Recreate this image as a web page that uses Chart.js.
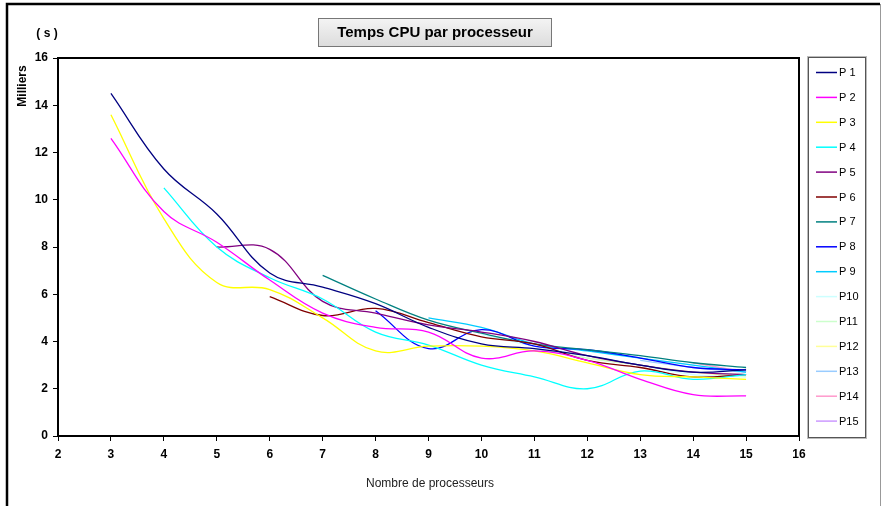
<!DOCTYPE html>
<html>
<head>
<meta charset="utf-8">
<script src="https://cdn.jsdelivr.net/npm/chart.js@4"></script>
<style>
html, body { margin: 0; padding: 0; background: #fff; }
#wrap { width: 883px; height: 506px; position: relative; }
</style>
</head>
<body>
<div id="wrap"><canvas id="cpuChart" width="883" height="506"></canvas></div>
<script>
// processor counts on the x axis
const xValues = [3, 4, 5, 6, 7, 8, 9, 10, 11, 12, 13, 14, 15]
const xTicks = [2, 3, 4, 5, 6, 7, 8, 9, 10, 11, 12, 13, 14, 15, 16]
const yTicks = [0, 2, 4, 6, 8, 10, 12, 14, 16]

const seriesNames = ['P 1','P 2','P 3','P 4','P 5','P 6','P 7','P 8','P 9','P10','P11','P12','P13','P14','P15']

// CPU time, thousands of seconds
const p1 = [14.5, 11.3, 9.4, 6.9, 6.3, 5.6, 4.6, 3.9, 3.7, 3.4, 3.0, 2.7, 2.8]
const p2 = [12.6, 9.5, 8.2, 6.6, 5.2, 4.6, 4.4, 3.3, 3.6, 3.2, 2.4, 1.75, 1.7]
const p3 = [13.6, 9.2, 6.5, 6.2, 5.0, 3.6, 3.8, 3.8, 3.6, 3.1, 2.6, 2.5, 2.4]
const p4 = [null, 10.5, 8.0, 6.7, 5.8, 4.4, 3.85, 3.0, 2.5, 2.0, 2.75, 2.4, 2.6]
const p5 = [null, null, 8.0, 7.9, 5.7, 5.2, 4.7, 4.4, 4.0, 3.4, 3.0, 2.7, 2.6]
const p6 = [null, null, null, 5.9, 5.1, 5.4, 4.8, 4.2, 3.9, 3.2, 2.9, 2.5, 2.6]
const p7 = [null, null, null, null, 6.8, 5.8, 4.9, 4.35, 3.9, 3.65, 3.4, 3.1, 2.9]
const p8 = [null, null, null, null, null, 5.3, 3.7, 4.5, 3.8, 3.65, 3.3, 2.9, 2.8]
const p9 = [null, null, null, null, null, null, 5.0, 4.6, 3.9, 3.6, 3.3, 3.0, 2.7]
const p10 = [null, null, null, null, null, null, null, 4.3, 3.8, 3.4, 3.0, 2.6, 2.5]
const p11 = [null, null, null, null, null, null, null, null, 3.7, 3.3, 3.0, 2.7, 2.6]
const p12 = [null, null, null, null, null, null, null, null, null, 3.3, 3.0, 2.7, 2.5]
const p13 = [null, null, null, null, null, null, null, null, null, null, 3.2, 2.9, 2.7]
const p14 = [null, null, null, null, null, null, null, null, null, null, null, 3.1, 2.7]
const p15 = [null, null, null, null, null, null, null, null, null, null, null, null, 2.8]

const allSeries = [p1, p2, p3, p4, p5, p6, p7, p8, p9, p10, p11, p12, p13, p14, p15]

// old Excel default series palette
const colors = ['#000080','#ff00ff','#ffff00','#00ffff','#800080','#800000','#008080','#0000ff',
  '#00ccff','#ccffff','#ccffcc','#ffff99','#99ccff','#ff99cc','#cc99ff']

const datasets = allSeries.map((vals, k) => ({
  label: seriesNames[k],
  data: xValues.map((x, i) => ({ x: x, y: vals[i] })).filter(p => p.y !== null),
  borderColor: colors[k],
  backgroundColor: colors[k],
  borderWidth: 1.3,
  pointRadius: 0,
  tension: 0.4,
  fill: false
}))

const font = 'Arial, "Liberation Sans", sans-serif'

// frame, title box, axis captions and legend drawn on the canvas
const decorations = {
  id: 'decorations',
  afterDraw(chart) {
    const c = chart.ctx
    const a = chart.chartArea
    c.save()

    // outer frame
    c.strokeStyle = '#000'
    c.lineWidth = 2.5
    c.beginPath()
    c.moveTo(7, 520); c.lineTo(7, 4); c.lineTo(880, 4)
    c.stroke()
    c.strokeStyle = '#999'
    c.lineWidth = 1
    c.beginPath()
    c.moveTo(880.5, 4); c.lineTo(880.5, 506)
    c.stroke()

    // plot border
    c.strokeStyle = '#000'
    c.lineWidth = 2
    c.strokeRect(a.left, a.top, a.right - a.left, a.bottom - a.top)

    // title box
    const g = c.createLinearGradient(0, 18, 0, 47)
    g.addColorStop(0, '#f4f4f4')
    g.addColorStop(1, '#dcdcdc')
    c.fillStyle = g
    c.fillRect(318, 18, 234, 29)
    c.strokeStyle = '#777'
    c.lineWidth = 1
    c.strokeRect(318.5, 18.5, 233, 28)
    c.fillStyle = '#000'
    c.font = 'bold 15px ' + font
    c.textAlign = 'center'
    c.textBaseline = 'middle'
    c.fillText('Temps CPU par processeur', 435, 33)

    // unit captions
    c.font = 'bold 12px ' + font
    c.fillText('( s )', 47, 34)
    c.save()
    c.translate(23, 86)
    c.rotate(-Math.PI / 2)
    c.fillText('Milliers', 0, 0)
    c.restore()

    // x axis caption
    c.font = '12px ' + font
    c.fillStyle = '#222'
    c.fillText('Nombre de processeurs', 430, 484)

    // legend
    c.strokeStyle = '#555'
    c.lineWidth = 1
    c.strokeRect(808.5, 57.5, 57, 380)
    c.strokeStyle = '#bbb'
    c.strokeRect(807.5, 56.5, 59, 382)
    c.font = '11px ' + font
    c.textAlign = 'left'
    c.fillStyle = '#000'
    chart.data.datasets.forEach((ds, k) => {
      const y = 72 + k * 24.9
      c.strokeStyle = ds.borderColor
      c.lineWidth = 1.5
      c.beginPath()
      c.moveTo(816, y + 0.5); c.lineTo(837, y + 0.5)
      c.stroke()
      c.fillText(ds.label, 839, y + 1)
    })

    c.restore()
  }
}

new Chart(document.getElementById('cpuChart'), {
  type: 'line',
  data: { datasets: datasets },
  options: {
    responsive: false,
    animation: false,
    events: [],
    layout: { padding: { left: 8, top: 58, right: 84, bottom: 0 } },
    plugins: {
      legend: { display: false },
      title: { display: false },
      tooltip: { enabled: false }
    },
    scales: {
      x: {
        type: 'linear',
        min: 2,
        max: 16,
        afterFit: s => { s.height = 70 },
        afterBuildTicks: s => { s.ticks = xTicks.map(v => ({ value: v })) },
        ticks: {
          color: '#000',
          padding: 6,
          maxRotation: 0,
          font: { family: font, size: 12, weight: 'bold' }
        },
        grid: { display: true, drawOnChartArea: false, drawTicks: true, tickLength: 5, color: '#000' },
        border: { display: true, color: '#000', width: 2 }
      },
      y: {
        type: 'linear',
        min: 0,
        max: 16,
        afterFit: s => { s.width = 50 },
        afterBuildTicks: s => { s.ticks = yTicks.map(v => ({ value: v })) },
        ticks: {
          color: '#000',
          padding: 5,
          font: { family: font, size: 12, weight: 'bold' }
        },
        grid: { display: true, drawOnChartArea: false, drawTicks: true, tickLength: 5, color: '#000' },
        border: { display: true, color: '#000', width: 2 }
      }
    }
  },
  plugins: [decorations]
})
</script>
</body>
</html>
